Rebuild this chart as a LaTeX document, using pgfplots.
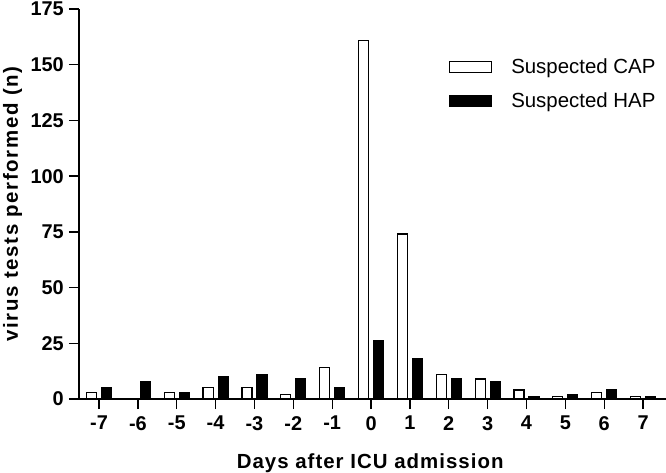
\documentclass[border=0pt]{standalone}
\usepackage{fontspec}
\setmainfont{Liberation Sans}
\newfontfamily\xlabfont[LetterSpace=5]{Liberation Sans}
\newfontfamily\ylabfont[LetterSpace=8]{Liberation Sans}
\usepackage{pgfplots}
\pgfplotsset{compat=1.18}
\begin{document}
\begin{tikzpicture}
\begin{axis}[
  scale only axis,
  width=587bp, height=390bp,
  xmin=-7.515, xmax=7.59,
  ymin=0, ymax=175,
  axis lines=left,
  axis line style={line width=1.3bp, -},
  ybar=5bp, bar width=10bp,
  xtick={-7,...,7},
  ytick={0,25,...,175},
  tick align=outside,
  major tick length=10bp,
  tick style={line width=1.3bp, black},
  /pgf/number format/assume math mode=true,
  ticklabel style={font=\fontsize{20}{24}\selectfont\bfseries},
  yticklabel style={inner sep=0pt, xshift=-5bp},
  xticklabel style={inner sep=0pt, yshift=-7bp},
  xlabel={\xlabfont\bfseries\fontsize{20.5}{24}\selectfont Days after ICU admission},
  ylabel={\ylabfont\bfseries\fontsize{20.5}{24}\selectfont virus tests performed (n)},
  xlabel style={at={(axis description cs:0.496,0)}, anchor=base, yshift=-69bp, inner sep=0pt},
  ylabel style={at={(axis description cs:-0.1295,0.5)}, anchor=north, rotate=0, inner sep=0pt},
  legend style={at={(0.625,0.882)}, anchor=north west, draw=none, fill=none,
    font=\fontsize{20.5}{24}\selectfont, row sep=13bp},
  legend cell align=left,
  legend image code/.code={\draw[#1, line width=1.2bp] (0bp,-5.5bp) rectangle (42bp,5.5bp);
    \path (59bp,0bp);},
]
\coordinate (ll) at (rel axis cs:0,0);
\addplot[draw=black, fill=white, line width=1.2bp] coordinates {
  (-7,3) (-5,3) (-4,5) (-3,5) (-2,2) (-1,14) (0,161) (1,74)
  (2,11) (3,9) (4,4) (5,1) (6,3) (7,1)
};
\addlegendentry{Suspected CAP}
\addplot[draw=black, fill=black, line width=1.2bp] coordinates {
  (-7,5) (-6,8) (-5,3) (-4,10) (-3,11) (-2,9) (-1,5) (0,26) (1,18)
  (2,9) (3,8) (4,1) (5,2) (6,4) (7,1)
};
\addlegendentry{Suspected HAP}
\end{axis}
\pgfresetboundingbox
\path (ll) ++(-79bp,-74bp) rectangle ++(666bp,473bp);
\end{tikzpicture}
\end{document}
